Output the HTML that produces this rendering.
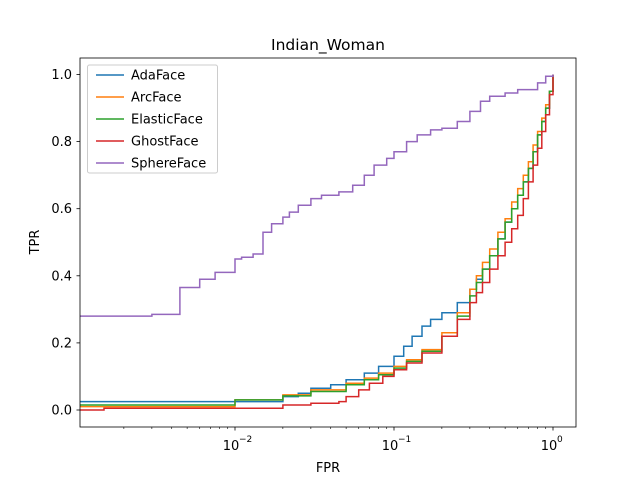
<!DOCTYPE html>
<html><head><meta charset="utf-8"><style>
body{margin:0;background:#fff}
svg text{font-family:"DejaVu Sans","Liberation Sans",sans-serif;fill:#000}
</style></head><body>
<svg width="640" height="480" viewBox="0 0 640 480" id="chart">
<rect width="640" height="480" fill="#fff"/>
<text x="328" y="50" font-size="15.5" text-anchor="middle">Indian_Woman</text>
<g id="plot"></g>
<rect x="80" y="58" width="496" height="369" fill="none" stroke="#000" stroke-width="0.8"/>
<g id="axes"></g>
<text x="328" y="472" font-size="13" text-anchor="middle">FPR</text>
<text x="39" y="242" font-size="13" text-anchor="middle" transform="rotate(-90 39 242)">TPR</text>
<g id="legend"></g>
</svg>
<script>
const seriesNames=["AdaFace","ArcFace","ElasticFace","GhostFace","SphereFace"];
const colors=["#1f77b4","#ff7f0e","#2ca02c","#d62728","#9467bd"];
const adaFpr=[0.00106,0.02,0.025,0.03,0.04,0.05,0.065,0.08,0.1,0.115,0.13,0.15,0.17,0.2,0.25,0.3,0.33,0.36,0.4,0.45,0.5,0.55,0.6,0.65,0.7,0.75,0.8,0.85,0.9,0.95,1];
const adaTpr=[0.025,0.04,0.05,0.065,0.075,0.09,0.11,0.13,0.16,0.19,0.22,0.25,0.27,0.29,0.32,0.36,0.39,0.42,0.46,0.51,0.56,0.6,0.64,0.68,0.72,0.77,0.82,0.86,0.9,0.95,1];
const arcFpr=[0.00106,0.01,0.02,0.03,0.05,0.065,0.08,0.1,0.12,0.15,0.2,0.25,0.3,0.33,0.36,0.4,0.45,0.5,0.55,0.6,0.65,0.7,0.75,0.8,0.85,0.9,0.95,1];
const arcTpr=[0.01,0.03,0.045,0.06,0.08,0.095,0.11,0.13,0.15,0.18,0.23,0.29,0.36,0.4,0.44,0.48,0.53,0.57,0.62,0.66,0.7,0.74,0.79,0.83,0.87,0.91,0.95,1];
const elaFpr=[0.00106,0.01,0.02,0.03,0.05,0.065,0.08,0.1,0.12,0.15,0.2,0.25,0.3,0.33,0.36,0.4,0.45,0.5,0.55,0.6,0.65,0.7,0.75,0.8,0.85,0.9,0.95,1];
const elaTpr=[0.015,0.03,0.042,0.055,0.075,0.09,0.105,0.125,0.145,0.175,0.22,0.28,0.34,0.38,0.42,0.46,0.51,0.56,0.6,0.64,0.68,0.72,0.77,0.82,0.86,0.9,0.95,1];
const ghoFpr=[0.00106,0.0015,0.02,0.03,0.045,0.05,0.06,0.07,0.085,0.1,0.12,0.15,0.2,0.25,0.3,0.33,0.36,0.4,0.45,0.5,0.55,0.6,0.65,0.7,0.75,0.8,0.85,0.9,0.95,1];
const ghoTpr=[0,0.005,0.015,0.02,0.025,0.04,0.06,0.08,0.1,0.12,0.14,0.17,0.22,0.27,0.32,0.35,0.38,0.42,0.46,0.5,0.54,0.58,0.63,0.68,0.73,0.78,0.83,0.88,0.94,1];
const sphFpr=[0.00106,0.003,0.0045,0.006,0.0075,0.01,0.011,0.013,0.015,0.017,0.02,0.022,0.025,0.03,0.035,0.045,0.055,0.065,0.075,0.09,0.1,0.12,0.14,0.17,0.2,0.25,0.3,0.35,0.4,0.5,0.6,0.8,0.9,1];
const sphTpr=[0.28,0.285,0.365,0.39,0.41,0.45,0.455,0.465,0.53,0.555,0.575,0.59,0.61,0.63,0.64,0.65,0.67,0.7,0.73,0.75,0.77,0.8,0.82,0.835,0.84,0.86,0.89,0.92,0.935,0.945,0.955,0.975,0.995,1];
const xTickVals=[0.01,0.1,1];
const xTickLabels=["10","10","10"];
const xTickExps=["−2","−1","0"];
const yTickVals=[0,0.2,0.4,0.6,0.8,1.0];
const yTickLabels=["0.0","0.2","0.4","0.6","0.8","1.0"];

const NS="http://www.w3.org/2000/svg";
function X(v){return 553+159*Math.log10(v);}
function Y(v){return 410-335.5*v;}
function mk(t,a,p){const e=document.createElementNS(NS,t);for(const k in a)e.setAttribute(k,a[k]);p.appendChild(e);return e;}
const plot=document.getElementById('plot');
const data=[[adaFpr,adaTpr],[arcFpr,arcTpr],[elaFpr,elaTpr],[ghoFpr,ghoTpr],[sphFpr,sphTpr]];
data.forEach((d,i)=>{
  let s="M"+X(d[0][0]).toFixed(1)+","+Y(d[1][0]).toFixed(1);
  for(let j=1;j<d[0].length;j++){s+=" H"+X(d[0][j]).toFixed(1)+" V"+Y(d[1][j]).toFixed(1);}
  const p=mk('path',{d:s,fill:"none",stroke:colors[i],"stroke-width":1.5},plot);
  
  
});
const axes=document.getElementById('axes');
xTickVals.forEach((v,i)=>{
  const x=X(v);
  const l=mk('line',{x1:x,x2:x,y1:427,y2:430.5,stroke:"#000","stroke-width":0.8},axes);
  
  
  const t=mk('text',{x:x-4,y:450,"font-size":13,"text-anchor":"middle"},axes);
  
  
  t.textContent=xTickLabels[i];
  const e=mk('text',{x:x+4,y:442,"font-size":9},axes);
  
  
  e.textContent=xTickExps[i];
});
for(let d=-3;d<=0;d++)for(let m=2;m<=9;m++){const v=m*Math.pow(10,d);const x=X(v);if(x<80||x>576)continue;
  const l=mk('line',{x1:x,x2:x,y1:427,y2:429,stroke:"#000","stroke-width":0.6},axes);
  
  }
yTickVals.forEach((v,i)=>{
  const y=Y(v);
  const l=mk('line',{x1:76.5,x2:80,y1:y,y2:y,stroke:"#000","stroke-width":0.8},axes);
  
  
  const t=mk('text',{x:72,y:y+4.5,"font-size":13,"text-anchor":"end"},axes);
  
  
  t.textContent=yTickLabels[i];
});
const lg=document.getElementById('legend');
const box=mk('rect',{x:87.5,y:65,width:130,height:108,rx:2,fill:"#fff","fill-opacity":0.8,stroke:"#ccc"},lg);


seriesNames.forEach((n,i)=>{
  const y=75+22*i;
  const l=mk('line',{x1:96,x2:124,y1:y,y2:y,stroke:colors[i],"stroke-width":1.5},lg);
  
  
  const t=mk('text',{x:131,y:y+4.5,"font-size":13},lg);
  
  
  t.textContent=n;
});
</script>
</body></html>
